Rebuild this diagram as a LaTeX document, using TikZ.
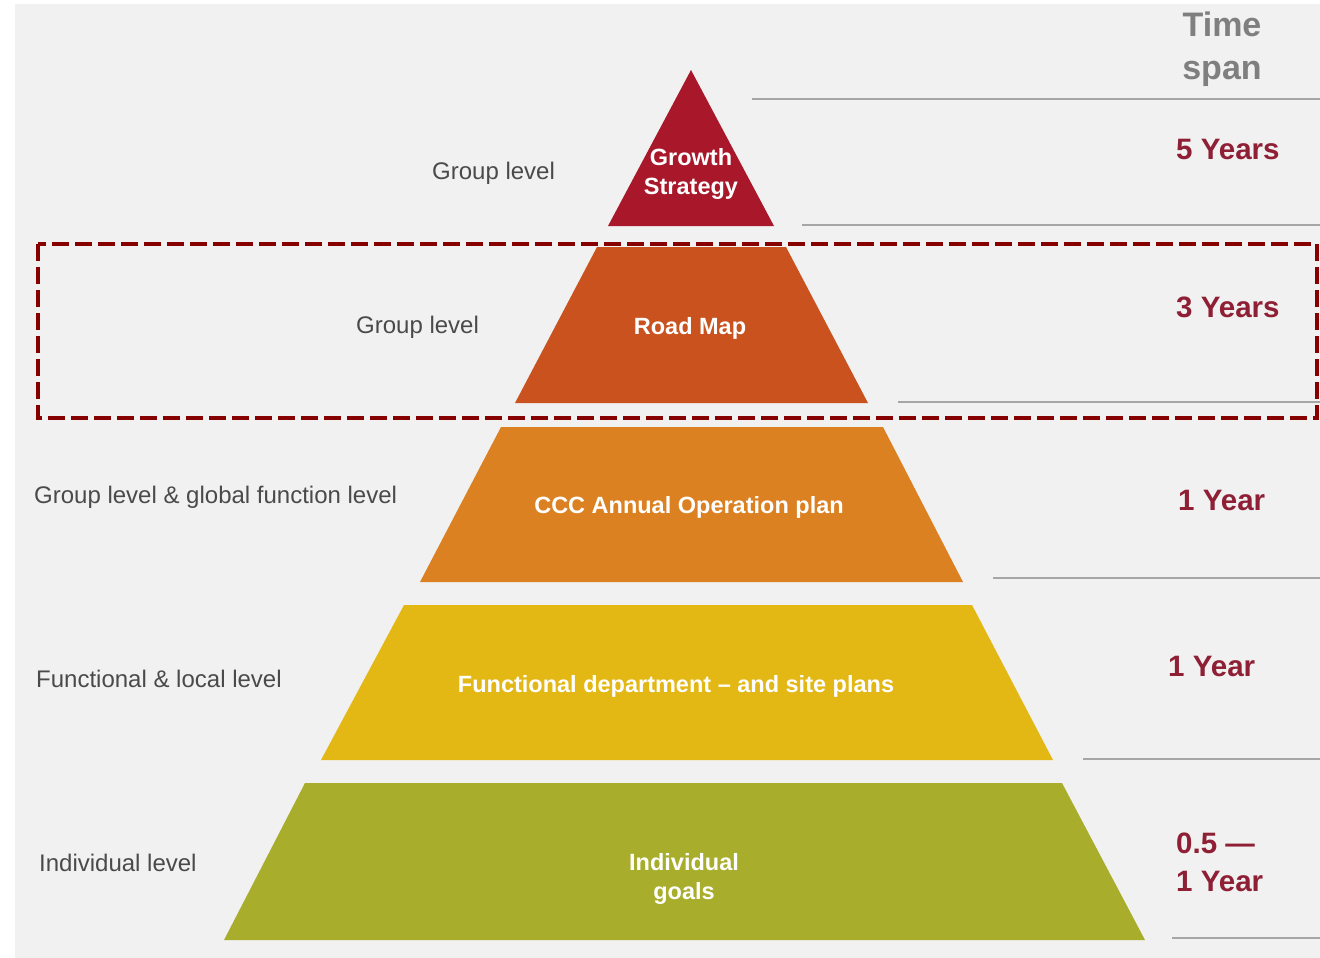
\documentclass[tikz,border=0pt]{standalone}
\usepackage{fontspec}
\setmainfont{Liberation Sans}
\definecolor{bggray}{HTML}{F1F1F1}
\definecolor{lvlgray}{HTML}{4A4A4A}
\definecolor{headgray}{HTML}{7F7F7F}
\definecolor{spanred}{HTML}{8E1F35}
\definecolor{linegray}{HTML}{A6A6A6}
\definecolor{boxred}{HTML}{870000}
\definecolor{cGrowth}{HTML}{A8172A}
\definecolor{cRoad}{HTML}{C9521E}
\definecolor{cAnnual}{HTML}{DB8122}
\definecolor{cFunc}{HTML}{E3B814}
\definecolor{cIndiv}{HTML}{A8AE2C}
\begin{document}
\begin{tikzpicture}[x=1pt,y=-1pt,
  intext/.style={text=white,font=\bfseries\fontsize{23.5}{29}\selectfont,align=center,inner sep=0pt},
  lvl/.style={text=lvlgray,font=\fontsize{24}{28}\selectfont,anchor=west,inner sep=0pt},
  spanlbl/.style={text=spanred,font=\bfseries\fontsize{29.5}{38}\selectfont,align=left,inner sep=0pt},
  head/.style={text=headgray,font=\bfseries\fontsize{34}{43}\selectfont,align=center,inner sep=0pt},
  sep/.style={draw=linegray,line width=2pt},
  focus/.style={draw=boxred,line width=4pt,dash pattern=on 17pt off 6pt}]
\useasboundingbox (0,0) rectangle (1320,958);
\fill[white] (0,0) rectangle (1320,958);
\fill[bggray] (15,4) rectangle (1320,958);

% pyramid bands
\fill[cGrowth] (691,70) -- (774,226) -- (608,226) -- cycle;
\fill[cRoad] (597,247) -- (786,247) -- (868,403) -- (515,403) -- cycle;
\fill[cAnnual] (501,427) -- (883,427) -- (963,582) -- (420,582) -- cycle;
\fill[cFunc] (404,605) -- (972,605) -- (1053,760) -- (321,760) -- cycle;
\fill[cIndiv] (305,783) -- (1062,783) -- (1145,940) -- (224,940) -- cycle;

% separator lines
\coordinate (s1a) at (752,99);  \coordinate (s1b) at (1320,99);
\coordinate (s2a) at (802,225); \coordinate (s2b) at (1320,225);
\coordinate (s3a) at (898,402); \coordinate (s3b) at (1320,402);
\coordinate (s4a) at (993,578); \coordinate (s4b) at (1320,578);
\coordinate (s5a) at (1083,759);\coordinate (s5b) at (1320,759);
\coordinate (s6a) at (1172,938);\coordinate (s6b) at (1320,938);
\draw[sep] (s1a) -- (s1b);
\draw[sep] (s2a) -- (s2b);
\draw[sep] (s3a) -- (s3b);
\draw[sep] (s4a) -- (s4b);
\draw[sep] (s5a) -- (s5b);
\draw[sep] (s6a) -- (s6b);

% dashed focus box
\draw[focus] (38,244) rectangle (1317,418);

% texts inside bands
\node[intext] (growth) at (691,174) {Growth\\Strategy};
\node[intext] (road) at (690,328) {Road Map};
\node[intext] (annual) at (689,507) {CCC Annual Operation plan};
\node[intext] (func) at (676,686) {Functional department -- and site plans};
\node[intext] (indiv) at (684,879) {Individual\\goals};

% level labels
\node[lvl] (l1) at (432,173) {Group level};
\node[lvl] (l2) at (356,327) {Group level};
\node[lvl] (l3) at (34,497) {Group level \& global function level};
\node[lvl] (l4) at (36,679) {Functional \& local level};
\node[lvl] (l5) at (39,863) {Individual level};

% time span
\node[head] (head) at (1222,49) {Time\\span};
\node[spanlbl,anchor=west] (t1) at (1176,149) {5 Years};
\node[spanlbl,anchor=west] (t2) at (1176,307) {3 Years};
\node[spanlbl,anchor=west] (t3) at (1178,500) {1 Year};
\node[spanlbl,anchor=west] (t4) at (1168,666) {1 Year};
\node[spanlbl,anchor=west] (t5) at (1176,862) {0.5 —\\1 Year};
\end{tikzpicture}
\end{document}
